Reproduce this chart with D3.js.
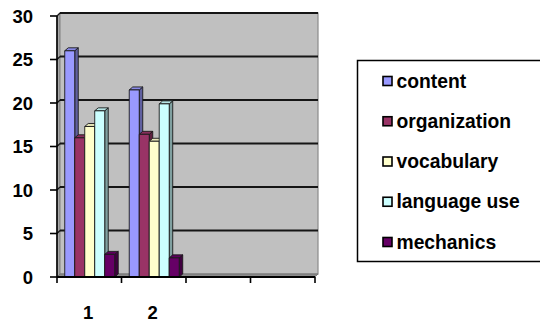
<!DOCTYPE html>
<html>
<head>
<meta charset="utf-8">
<script src="https://cdn.jsdelivr.net/npm/d3@7"></script>
<style>
  html, body { margin: 0; padding: 0; background: #ffffff; }
  svg { display: block; }
  text { font-family: "Liberation Sans", Arial, sans-serif; font-weight: bold; fill: #000; }
</style>
</head>
<body>
<svg id="chart" width="540" height="324"></svg>
<script>
// Category slots along the x axis (only the first two carry data)
const xLabels = ["1", "2", "", ""];
// Rating components
const series = ["content", "organization", "vocabulary", "language use", "mechanics"];
// Scores per component for categories 1 and 2
const content      = [26.0, 21.5];
const organization = [16.0, 16.4];
const vocabulary   = [17.3, 15.6];
const languageUse  = [19.1, 19.9];
const mechanics    = [2.6, 2.2];
const yTicks = [0, 5, 10, 15, 20, 25, 30];
const colors = ["#9999FF", "#993366", "#FFFFCC", "#CCFFFF", "#660066"];

const values = [content, organization, vocabulary, languageUse, mechanics];

const svg = d3.select("#chart");

// Front plane of the plot; the back wall is shifted by the depth offset
const plotLeft = 57, plotRight = 315, plotTop = 16, plotBottom = 277;
const wallDx = 3, wallDy = -3;
const barDx = 3.5, barDy = -3;

const y = d3.scaleLinear().domain([0, 30]).range([plotBottom, plotTop]);
const x0 = d3.scaleBand().domain(d3.range(xLabels.length)).range([plotLeft, plotRight]).padding(0);
const x1 = d3.scaleBand().domain(series)
  .range([x0.bandwidth() * 0.12, x0.bandwidth() * 0.895]).padding(0);

// Side wall
svg.append("polygon")
  .attr("points", [[plotLeft, y(30)], [plotLeft + wallDx, y(30) + wallDy], [plotLeft + wallDx, plotBottom + wallDy], [plotLeft, plotBottom]].join(" "))
  .attr("fill", "#a8a8a8").attr("stroke", "#808080").attr("stroke-width", 1);

// Back wall
svg.append("rect")
  .attr("x", plotLeft + wallDx).attr("y", y(30) + wallDy)
  .attr("width", plotRight - plotLeft).attr("height", plotBottom - y(30))
  .attr("fill", "#C0C0C0").attr("stroke", "#8a8a8a").attr("stroke-width", 1.2);

// Floor
svg.append("polygon")
  .attr("points", [[plotLeft, plotBottom], [plotLeft + wallDx, plotBottom + wallDy], [plotRight + wallDx, plotBottom + wallDy], [plotRight, plotBottom]].join(" "))
  .attr("fill", "#8c8c8c").attr("stroke", "#707070").attr("stroke-width", 0.8);

// Gridlines on the back wall, with their short run across the side wall
const grid = svg.append("g");
yTicks.filter(v => v > 0).forEach(v => {
  grid.append("line")
    .attr("x1", plotLeft + wallDx).attr("x2", plotRight + wallDx)
    .attr("y1", y(v) + wallDy).attr("y2", y(v) + wallDy)
    .attr("stroke", "#151515").attr("stroke-width", 1.8);
  grid.append("line")
    .attr("x1", plotLeft).attr("x2", plotLeft + wallDx)
    .attr("y1", y(v)).attr("y2", y(v) + wallDy)
    .attr("stroke", "#151515").attr("stroke-width", 1.2);
});

// 3D columns: front face, top face and right side
const bars = svg.append("g");
xLabels.forEach((lab, j) => {
  series.forEach((s, i) => {
    const v = values[i][j];
    if (v === undefined) return;
    const c = colors[i];
    const bx = x0(j) + x1(s), w = x1.bandwidth();
    const yv = y(v), yb = y(0);
    const g = bars.append("g").attr("stroke", "#1a1a1a").attr("stroke-width", 0.9).attr("stroke-linejoin", "round");
    g.append("polygon")
      .attr("points", [[bx + w, yv], [bx + w + barDx, yv + barDy], [bx + w + barDx, yb + barDy], [bx + w, yb]].join(" "))
      .attr("fill", d3.color(c).darker(1.3));
    g.append("polygon")
      .attr("points", [[bx, yv], [bx + barDx, yv + barDy], [bx + w + barDx, yv + barDy], [bx + w, yv]].join(" "))
      .attr("fill", d3.color(c).darker(0.3));
    g.append("rect")
      .attr("x", bx).attr("y", yv).attr("width", w).attr("height", yb - yv)
      .attr("fill", c);
  });
});

// Y axis
const yAxis = svg.append("g");
yAxis.append("line").attr("x1", plotLeft).attr("x2", plotLeft).attr("y1", y(30)).attr("y2", plotBottom)
  .attr("stroke", "#000").attr("stroke-width", 1.6);
yTicks.forEach(v => {
  yAxis.append("line").attr("x1", plotLeft - 7).attr("x2", plotLeft).attr("y1", y(v)).attr("y2", y(v))
    .attr("stroke", "#000").attr("stroke-width", 1.6);
  yAxis.append("text").attr("x", 33).attr("y", y(v) + 6.5)
    .attr("text-anchor", "end").attr("font-size", 18.5).text(v);
});

// X axis
const xAxis = svg.append("g");
xAxis.append("line").attr("x1", plotLeft).attr("x2", plotRight).attr("y1", plotBottom).attr("y2", plotBottom)
  .attr("stroke", "#000").attr("stroke-width", 2.2);
d3.range(xLabels.length + 1).forEach(k => {
  const tx = plotLeft + k * x0.bandwidth();
  xAxis.append("line").attr("x1", tx).attr("x2", tx).attr("y1", plotBottom).attr("y2", plotBottom + 6)
    .attr("stroke", "#000").attr("stroke-width", 1.6);
});
xLabels.forEach((lab, j) => {
  xAxis.append("text").attr("x", x0(j) + x0.bandwidth() / 2 - 1).attr("y", 319)
    .attr("text-anchor", "middle").attr("font-size", 18.5).text(lab);
});

// Legend
const legend = svg.append("g");
legend.append("rect").attr("x", 357.5).attr("y", 60.5).attr("width", 200).attr("height", 201)
  .attr("fill", "#fff").attr("stroke", "#000").attr("stroke-width", 1.5);
series.forEach((s, i) => {
  const cy = 81 + i * 40.25;
  legend.append("rect").attr("x", 383).attr("y", cy - 4.5).attr("width", 9).attr("height", 9)
    .attr("fill", colors[i]).attr("stroke", "#000").attr("stroke-width", 1.6);
  legend.append("text").attr("x", 396.5).attr("y", cy + 6.5).attr("font-size", 19.3).text(s);
});
</script>
</body>
</html>
